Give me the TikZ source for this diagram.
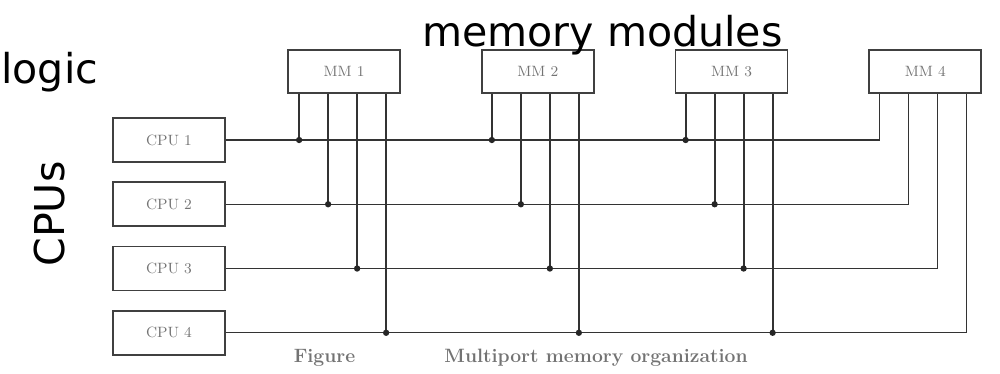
\documentclass[tikz,border=0pt]{standalone}
\usepackage{fontspec}
\usepackage{tikz}
\usetikzlibrary{positioning, calc}
\newfontfamily\labelfont{DejaVu Sans}

\begin{document}
\begin{tikzpicture}[
  unit/.style={rectangle, draw=black!75, line width=1pt, minimum width=2.24cm, align=center, font=\fontsize{8.5}{10}\selectfont, text=black!55},
  mmbox/.style={unit, minimum height=0.86cm},
  cpubox/.style={unit, minimum height=0.88cm},
  bus/.style={draw=black!80, line width=0.7pt},
  tap/.style={bus, line width=1pt},
  dot/.style={circle, fill=black!85, inner sep=0pt, minimum size=3.6pt},
  biglabel/.style={font=\labelfont\fontsize{23.4}{28}\selectfont, text=black, inner sep=0pt},
  caption/.style={font=\bfseries\fontsize{11}{13}\selectfont, text=black!55, inner sep=0pt}
]
\useasboundingbox (0,0) rectangle (20,-7.48);
\node[mmbox] (mm1) at (6.88,-1.43) {MM 1};
\node[mmbox, right=1.6cm of mm1] (mm2) {MM 2};
\node[mmbox, right=1.6cm of mm2] (mm3) {MM 3};
\node[mmbox, right=1.6cm of mm3] (mm4) {MM 4};
\node[cpubox] (cpu1) at (3.38,-2.8) {CPU 1};
\node[cpubox, below=0.37cm of cpu1] (cpu2) {CPU 2};
\node[cpubox, below=0.37cm of cpu2] (cpu3) {CPU 3};
\node[cpubox, below=0.37cm of cpu3] (cpu4) {CPU 4};
\node[biglabel, anchor=base] (title) at (12.05,-0.94) {memory modules};
\node[biglabel, anchor=base west] (logic) at (0.02,-1.68) {logic};
\node[biglabel, rotate=90] (cpus) at (1.0,-4.28) {CPUs};
\node[caption, anchor=base] (fig) at (6.49,-7.24) {Figure};
\node[caption, anchor=base] (figtext) at (11.92,-7.24) {Multiport memory organization};
\coordinate (t11) at ($(mm1.south west)+(0.24,0)$);
\coordinate (t12) at ($(mm1.south west)+(0.82,0)$);
\coordinate (t13) at ($(mm1.south west)+(1.40,0)$);
\coordinate (t14) at ($(mm1.south west)+(1.98,0)$);
\coordinate (t21) at ($(mm2.south west)+(0.22,0)$);
\coordinate (t22) at ($(mm2.south west)+(0.80,0)$);
\coordinate (t23) at ($(mm2.south west)+(1.38,0)$);
\coordinate (t24) at ($(mm2.south west)+(1.96,0)$);
\coordinate (t31) at ($(mm3.south west)+(0.22,0)$);
\coordinate (t32) at ($(mm3.south west)+(0.80,0)$);
\coordinate (t33) at ($(mm3.south west)+(1.38,0)$);
\coordinate (t34) at ($(mm3.south west)+(1.96,0)$);
\coordinate (t41) at ($(mm4.south west)+(0.22,0)$);
\coordinate (t42) at ($(mm4.south west)+(0.80,0)$);
\coordinate (t43) at ($(mm4.south west)+(1.38,0)$);
\coordinate (t44) at ($(mm4.south west)+(1.96,0)$);
\draw[bus] (cpu1.east) -| (t41);
\draw[bus] (cpu2.east) -| (t42);
\draw[bus] (cpu3.east) -| (t43);
\draw[bus] (cpu4.east) -| (t44);
\draw[tap] (t11) -- (t11 |- cpu1.east) node[dot] (d11) {};
\draw[tap] (t12) -- (t12 |- cpu2.east) node[dot] (d12) {};
\draw[tap] (t13) -- (t13 |- cpu3.east) node[dot] (d13) {};
\draw[tap] (t14) -- (t14 |- cpu4.east) node[dot] (d14) {};
\draw[tap] (t21) -- (t21 |- cpu1.east) node[dot] (d21) {};
\draw[tap] (t22) -- (t22 |- cpu2.east) node[dot] (d22) {};
\draw[tap] (t23) -- (t23 |- cpu3.east) node[dot] (d23) {};
\draw[tap] (t24) -- (t24 |- cpu4.east) node[dot] (d24) {};
\draw[tap] (t31) -- (t31 |- cpu1.east) node[dot] (d31) {};
\draw[tap] (t32) -- (t32 |- cpu2.east) node[dot] (d32) {};
\draw[tap] (t33) -- (t33 |- cpu3.east) node[dot] (d33) {};
\draw[tap] (t34) -- (t34 |- cpu4.east) node[dot] (d34) {};
\end{tikzpicture}
\end{document}
